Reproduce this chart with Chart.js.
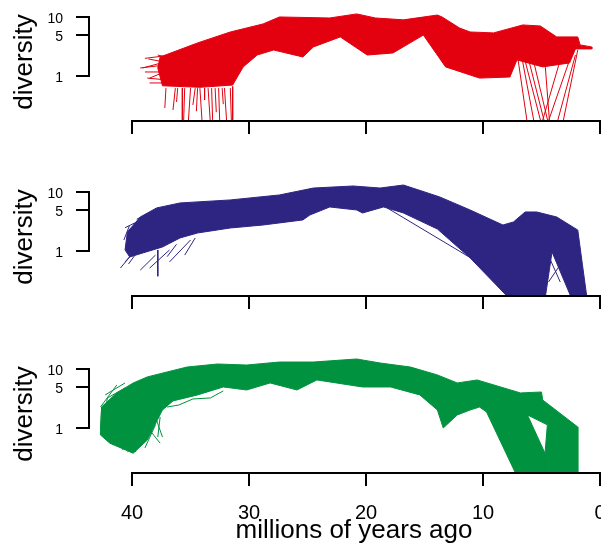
<!DOCTYPE html>
<html>
<head>
<meta charset="utf-8">
<script src="https://cdn.jsdelivr.net/npm/chart.js@4.4.1/dist/chart.umd.min.js"></script>
<style>
  body { margin: 0; background: #fff; width: 601px; height: 544px; overflow: hidden; }
  canvas { position: absolute; left: 0; }
</style>
</head>
<body>
<canvas id="panelRed" width="601" height="175" style="top:0px"></canvas>
<canvas id="panelBlue" width="601" height="177" style="top:175px"></canvas>
<canvas id="panelGreen" width="601" height="192" style="top:352px"></canvas>
<script>
// axis ticks
const xTicks = [40, 30, 20, 10, 0];
const yTicks = [1, 5, 10];

// [millions of years ago, diversity] - outline of the dense bundle of lines
const redBand = [
  [37.6, 2.11], [34.4, 3.67], [31.6, 5.65], [28.8, 7.75], [27.4, 10.2], [23.1, 9.8],
  [20.8, 11.5], [19.2, 9.8], [16.8, 9.1], [13.9, 11.0], [13.5, 10.2], [12.0, 6.6],
  [11.1, 5.65], [9.1, 5.45], [6.6, 7.45], [5.1, 7.15], [3.7, 4.65], [1.9, 4.65],
  [1.7, 3.4], [0.7, 3.13], [0.7, 2.9], [2.1, 2.9], [2.6, 1.67], [4.9, 1.43],
  [7.1, 1.88], [7.7, 0.96], [10.3, 0.92], [13.2, 1.43], [15.1, 5.0], [17.7, 2.47],
  [19.9, 2.28], [22.2, 4.65], [24.5, 3.13], [25.4, 2.11], [27.9, 2.78], [29.3, 2.28],
  [30.5, 1.43], [31.4, 0.70], [34.2, 0.64], [37.4, 0.68], [37.8, 1.37], [37.6, 2.11]
];
// single lines that leave the bundle
const redStrays = [
  [[37.2, 1.73], [39.1, 1.37]], [[37.2, 1.54], [39.3, 1.37]], [[37.2, 1.73], [38.6, 1.95]],
  [[36.9, 0.85], [38.7, 0.92]], [[36.8, 0.76], [38.5, 0.76]], [[36.8, 2.03], [37.8, 2.28]],
  [[36.8, 1.17], [38.9, 1.17]], [[36.5, 2.3], [38.9, 2.0]], [[36.8, 1.27], [38.5, 0.92]],
  [[37.1, 0.62], [37.2, 0.284]], [[36.3, 0.62], [36.5, 0.262]], [[35.7, 0.62], [35.7, 0.15]],
  [[35.5, 0.62], [35.6, 0.15]], [[35.0, 0.62], [35.2, 0.15]], [[34.2, 0.62], [34.0, 0.15]],
  [[33.5, 0.62], [33.3, 0.15]], [[33.2, 0.62], [33.1, 0.15]], [[32.6, 0.62], [32.5, 0.15]],
  [[32.1, 0.62], [31.9, 0.15]], [[31.6, 0.62], [31.5, 0.15]], [[31.4, 0.66], [31.4, 0.15]],
  [[36.1, 0.62], [36.2, 0.36]], [[34.6, 0.62], [34.8, 0.32]], [[33.8, 0.62], [33.8, 0.39]],
  [[32.9, 0.62], [32.8, 0.24]], [[32.3, 0.62], [32.2, 0.33]], [[34.4, 0.62], [34.5, 0.25]],
  [[7.1, 2.57], [6.2, 0.15]], [[6.8, 2.78], [5.6, 0.15]], [[6.6, 2.57], [5.0, 0.15]],
  [[6.2, 2.28], [4.7, 0.15]], [[5.7, 1.88], [4.4, 0.15]], [[4.7, 1.67], [4.3, 0.15]],
  [[2.6, 1.88], [4.5, 0.15]], [[2.1, 2.28], [3.7, 0.15]], [[1.9, 2.78], [3.2, 0.15]],
  [[3.4, 1.88], [5.0, 0.15]]
];

const blueBand = [
  [40.4, 2.11], [39.3, 3.81], [37.9, 5.44], [35.9, 6.62], [31.6, 7.45], [27.4, 9.07],
  [24.5, 11.9], [21.1, 12.9], [18.8, 11.9], [16.8, 13.4], [13.7, 8.39], [11.1, 5.02],
  [8.3, 2.78], [7.4, 3.13], [6.4, 4.64], [5.4, 4.64], [3.7, 3.81], [1.9, 2.28],
  [1.5, 0.58], [1.1, 0.15], [2.4, 0.15], [4.1, 0.96], [4.7, 0.15], [7.7, 0.15],
  [11.1, 0.76], [13.9, 2.37], [16.8, 4.46], [18.5, 5.65], [20.3, 4.46], [20.8, 5.02],
  [23.1, 5.65], [24.8, 4.12], [25.4, 3.39], [28.8, 2.78], [31.6, 2.47], [34.4, 2.03],
  [35.9, 1.67], [37.4, 1.17], [40.2, 0.79], [40.6, 1.04], [40.4, 2.11]
];
const blueStrays = [
  [[39.7, 1.04], [41.0, 0.51]], [[39.3, 1.27], [40.6, 0.65]], [[38.5, 1.88], [40.3, 0.60]],
  [[38.0, 0.85], [39.3, 0.47]], [[37.8, 1.04], [37.8, 0.37]], [[40.2, 2.78], [40.7, 1.54]],
  [[36.8, 1.04], [38.5, 0.51]], [[35.0, 1.54], [36.8, 0.65]], [[34.6, 1.67], [35.5, 0.85]],
  [[39.5, 3.2], [40.6, 2.5]], [[38.6, 4.3], [39.6, 3.5]], [[36.2, 1.3], [37.0, 0.8]],
  [[18.2, 5.44], [10.9, 0.73]], [[4.5, 0.92], [3.4, 0.295]], [[3.0, 0.76], [4.4, 0.295]]
];

const greenBand = [
  [42.6, 2.28], [41.3, 3.97], [39.9, 5.88], [38.7, 7.45], [37.0, 9.07], [35.3, 11.0],
  [32.7, 12.4], [30.2, 11.9], [27.4, 13.4], [24.5, 13.4], [20.8, 15.1], [18.8, 12.9],
  [16.2, 11.0], [13.9, 8.07], [12.2, 5.88], [10.5, 6.62], [6.8, 3.97], [5.0, 4.12],
  [4.9, 3.01], [1.9, 1.04], [1.9, 0.15], [4.7, 0.15], [4.7, 0.37], [4.5, 1.13],
  [6.2, 1.67], [4.7, 0.37], [4.7, 0.15], [7.1, 0.15], [9.7, 1.88], [10.3, 2.28],
  [11.1, 2.03], [12.2, 1.67], [13.4, 1.0], [13.9, 2.03], [15.4, 3.67], [17.9, 5.02],
  [20.3, 5.02], [24.2, 6.62], [25.9, 4.46], [28.2, 5.88], [30.2, 4.46], [32.2, 5.02],
  [34.4, 3.67], [36.5, 2.9], [37.4, 2.03], [38.7, 0.62], [39.9, 0.37], [41.9, 0.55],
  [42.7, 0.76], [42.6, 2.28]
];
const greenStrays = [
  [[37.6, 1.54], [37.8, 0.70]], [[41.3, 5.44], [42.7, 2.28]], [[40.6, 5.88], [42.3, 3.67]],
  [[41.9, 0.92], [41.0, 0.47]], [[39.3, 0.62], [40.4, 0.39]], [[38.0, 1.13], [38.9, 0.455]],
  [[41.2, 4.12], [42.6, 2.28], [42.7, 0.92]], [[40.6, 4.83], [42.1, 3.26], [42.5, 1.37]],
  [[38.0, 1.54], [37.4, 0.70]], [[38.5, 0.92], [37.6, 0.55]],
  [[37.0, 2.28], [36.0, 2.47], [34.8, 3.13], [33.3, 3.26], [32.2, 4.3]],
  [[41.5, 0.92], [41.6, 0.51]], [[40.6, 0.76], [40.8, 0.42]], [[39.7, 0.62], [39.7, 0.39]]
];

const FONT = '"Liberation Sans", Arial, Helvetica, sans-serif';

// R style detached axes, drawn from the chart's own scales
const rAxes = {
  id: 'rAxes',
  afterDraw(chart, args, opts) {
    const { ctx, chartArea, scales } = chart;
    const xs = scales.x, ys = scales.y;
    const bottom = chartArea.bottom, left = chartArea.left;
    ctx.save();
    ctx.strokeStyle = '#000';
    ctx.lineWidth = 2;
    ctx.lineCap = 'square';
    ctx.beginPath();
    ctx.moveTo(xs.getPixelForValue(xTicks[0]), bottom);
    ctx.lineTo(xs.getPixelForValue(xTicks[xTicks.length - 1]), bottom);
    xTicks.forEach(t => {
      const px = Math.round(xs.getPixelForValue(t));
      ctx.moveTo(px, bottom);
      ctx.lineTo(px, bottom + 12);
    });
    ctx.moveTo(left, Math.round(ys.getPixelForValue(yTicks[0])));
    ctx.lineTo(left, Math.round(ys.getPixelForValue(yTicks[yTicks.length - 1])));
    yTicks.forEach(t => {
      const py = Math.round(ys.getPixelForValue(t));
      ctx.moveTo(left, py);
      ctx.lineTo(left - 12, py);
    });
    ctx.stroke();

    ctx.fillStyle = '#000';
    ctx.font = '14px ' + FONT;
    ctx.textAlign = 'right';
    ctx.textBaseline = 'alphabetic';
    yTicks.forEach(t => ctx.fillText(String(t), left - 26, ys.getPixelForValue(t) + 6));

    ctx.save();
    ctx.font = '26px ' + FONT;
    ctx.textAlign = 'center';
    ctx.translate(32, bottom - 59);
    ctx.rotate(-Math.PI / 2);
    ctx.fillText('diversity', 0, 0);
    ctx.restore();

    if (opts.xLabels) {
      ctx.font = '20px ' + FONT;
      ctx.textAlign = 'center';
      xTicks.forEach(t => ctx.fillText(String(t), xs.getPixelForValue(t), bottom + 45.5));
      ctx.font = '26px ' + FONT;
      ctx.fillText('millions of years ago', left + 265, bottom + 65);
    }
    ctx.restore();
  }
};

function toPts(arr) {
  return arr.map(([age, div]) => ({ x: age, y: div }));
}

function makePanel(id, band, strays, color, xLabels) {
  const canvas = document.getElementById(id);
  const datasets = [{
    data: toPts(band),
    fill: 'shape',
    borderColor: color,
    backgroundColor: color,
    borderWidth: 1,
    pointRadius: 0
  }];
  strays.forEach(s => datasets.push({
    data: toPts(s),
    fill: false,
    borderColor: color,
    borderWidth: 1,
    pointRadius: 0
  }));

  return new Chart(canvas.getContext('2d'), {
    type: 'line',
    data: { datasets },
    options: {
      responsive: false,
      animation: false,
      events: [],
      layout: { padding: { left: 89, right: 1, top: 6, bottom: canvas.height - 121 } },
      scales: {
        x: { type: 'linear', min: 0, max: 43.68, reverse: true, display: false },
        y: { type: 'logarithmic', min: 0.17, max: 15.7, display: false }
      },
      plugins: {
        legend: { display: false },
        tooltip: { enabled: false },
        rAxes: { xLabels }
      }
    },
    plugins: [rAxes]
  });
}

makePanel('panelRed', redBand, redStrays, '#E3000F', false);
makePanel('panelBlue', blueBand, blueStrays, '#2E2583', false);
makePanel('panelGreen', greenBand, greenStrays, '#00923F', true);
</script>
</body>
</html>
